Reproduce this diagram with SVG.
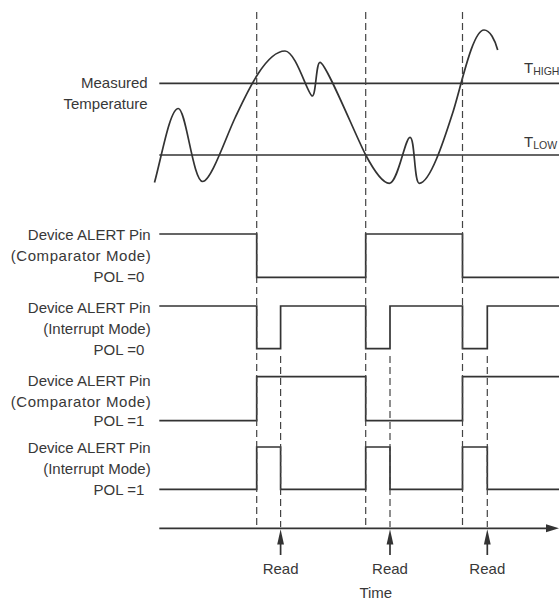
<svg xmlns="http://www.w3.org/2000/svg" width="559" height="599" viewBox="0 0 559 599">
<style>
text{font-family:"Liberation Sans",Arial,sans-serif;font-size:15px;fill:#383838}
.lbl{text-anchor:end}
.w{fill:none;stroke:#333;stroke-width:1.7}
.d{fill:none;stroke:#444;stroke-width:1.2;stroke-dasharray:7 4}
.ar{fill:#333}
</style>
<rect width="559" height="599" fill="#fff"/>
<g id="temperature">
<text class="lbl" x="147.7" y="87.5">Measured</text>
<text class="lbl" x="147.7" y="108.7">Temperature</text>
<line class="w" x1="159.3" y1="83.3" x2="559" y2="83.3"/>
<line class="w" x1="159.3" y1="155" x2="559" y2="155"/>
<text x="524" y="73.3">T<tspan font-size="10.5" dy="2">HIGH</tspan></text>
<text x="524" y="147.3">T<tspan font-size="10.5" dy="1.2">LOW</tspan></text>
<path class="w" d="M154.5,182.5 C162,155 170,108.5 178.3,108.5 C186,108.5 193,181.5 202.7,181.5 C211,181.5 226,137 235,118 C245,97 265,51 285,51 C296,51 308,96 312.3,96 C316,96 316,62.3 320,62.3 C326,62.3 355.7,136 365.7,155 C373.7,170 382,183.3 389.3,183.3 C398,183.3 405,137.3 410,137.3 C415,137.3 414,183.3 419.3,183.3 C430,183.3 444,140 452,115 C460,92 472,30 484,30 C490,30 495,40 497.7,50"/>
</g>
<g id="comp-pol0">
<text class="lbl" x="150.7" y="240">Device ALERT Pin</text>
<text class="lbl" x="150.7" y="261" textLength="140" lengthAdjust="spacing">(Comparator Mode)</text>
<text class="lbl" x="144.3" y="282">POL =0</text>
<path class="w" d="M159.3,234 H256.7 V277.3 H365.7 V234 H462.5 V277.3 H559"/>
</g>
<g id="int-pol0">
<text class="lbl" x="150.7" y="313">Device ALERT Pin</text>
<text class="lbl" x="150.7" y="333.7">(Interrupt Mode)</text>
<text class="lbl" x="144.3" y="354.7">POL =0</text>
<path class="w" d="M159.3,306 H256.7 V348.7 H280.6 V306 H365.7 V348.7 H390 V306 H462.5 V348.7 H487.3 V306 H559"/>
</g>
<g id="comp-pol1">
<text class="lbl" x="150.7" y="386.4">Device ALERT Pin</text>
<text class="lbl" x="150.7" y="407" textLength="140" lengthAdjust="spacing">(Comparator Mode)</text>
<text class="lbl" x="144.3" y="426">POL =1</text>
<path class="w" d="M159.3,420.7 H256.7 V376.7 H365.7 V420.7 H462.5 V376.7 H559"/>
</g>
<g id="int-pol1">
<text class="lbl" x="150.7" y="453">Device ALERT Pin</text>
<text class="lbl" x="150.7" y="474.4">(Interrupt Mode)</text>
<text class="lbl" x="144.3" y="494.7">POL =1</text>
<path class="w" d="M159.3,489.3 H256.7 V447 H280.6 V489.3 H365.7 V447 H390 V489.3 H462.5 V447 H487.3 V489.3 H559"/>
</g>
<g id="time-axis">
<line class="w" x1="159.3" y1="528.3" x2="548" y2="528.3"/>
<polygon class="ar" points="559,528.3 546,524.3 546,532.3"/>
<text x="375.8" y="597.5" text-anchor="middle">Time</text>
</g>
<g id="reads">
<text x="280.6" y="574" text-anchor="middle">Read</text>
<text x="390" y="574" text-anchor="middle">Read</text>
<text x="487.3" y="574" text-anchor="middle">Read</text>
</g>
<g id="connectors">
<line class="d" x1="256.7" y1="12" x2="256.7" y2="527"/>
<line class="d" x1="365.7" y1="12" x2="365.7" y2="527"/>
<line class="d" x1="462.5" y1="12" x2="462.5" y2="527"/>
<line class="d" x1="280.6" y1="356" x2="280.6" y2="527"/>
<line class="d" x1="390" y1="356" x2="390" y2="527"/>
<line class="d" x1="487.3" y1="356" x2="487.3" y2="527"/>
<line class="w" x1="280.6" y1="555" x2="280.6" y2="540"/>
<polygon class="ar" points="280.6,529.3 277.2,544.5 284,544.5"/>
<line class="w" x1="390" y1="555" x2="390" y2="540"/>
<polygon class="ar" points="390,529.3 386.6,544.5 393.4,544.5"/>
<line class="w" x1="487.3" y1="555" x2="487.3" y2="540"/>
<polygon class="ar" points="487.3,529.3 483.9,544.5 490.7,544.5"/>
</g>
</svg>
